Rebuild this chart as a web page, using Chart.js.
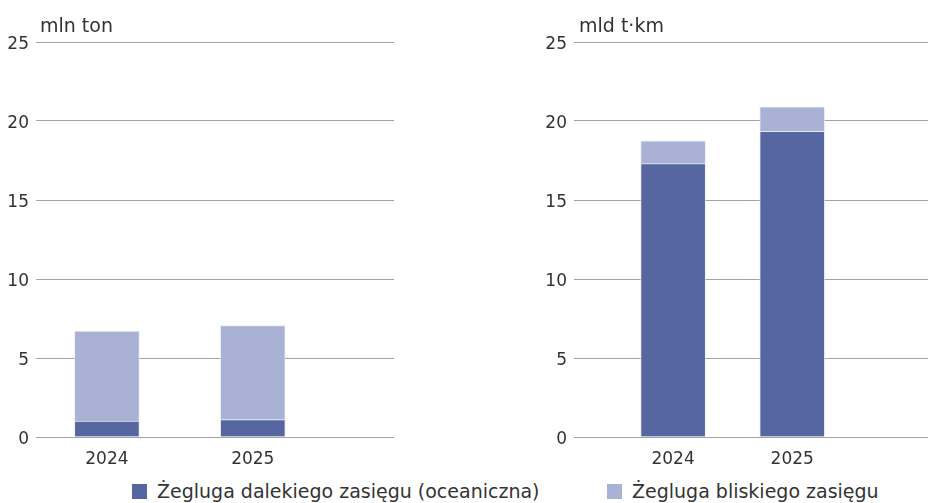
<!DOCTYPE html>
<html>
<head>
<meta charset="utf-8">
<script src="https://cdn.jsdelivr.net/npm/chart.js@4.4.0/dist/chart.umd.min.js"></script>
<style>
  body { margin: 0; background: #fff; }
  #wrap { position: relative; width: 928px; height: 503px; font-family: "DejaVu Sans", sans-serif; color: #333; }
  #wrap canvas { position: absolute; top: 0; }
  .unit { position: absolute; top: 16px; font-size: 19px; line-height: 18px; white-space: nowrap; }
  .leg { position: absolute; top: 482px; display: flex; align-items: center; font-size: 19px; line-height: 18px; white-space: nowrap; }
  .leg i { display: inline-block; width: 15px; height: 15px; margin-right: 10px; }
</style>
</head>
<body>
<div id="wrap">
  <canvas id="tonChart" width="394" height="475" style="left:0"></canvas>
  <canvas id="tkmChart" width="398" height="475" style="left:530px"></canvas>
  <div class="unit" style="left:40px">mln ton</div>
  <div class="unit" style="left:579px">mld t·km</div>
  <div class="leg" style="left:132px"><i style="background:#5566a1"></i>Żegluga dalekiego zasięgu (oceaniczna)</div>
  <div class="leg" style="left:607px"><i style="background:#a9b2d4"></i>Żegluga bliskiego zasięgu</div>
</div>
<script>
const years = [2024, 2025];
const seriesNames = ["Żegluga dalekiego zasięgu (oceaniczna)", "Żegluga bliskiego zasięgu"];

// mln ton
const tonOcean = [1.0, 1.1];
const tonShort = [5.7, 5.95];

// mld t·km
const tkmOcean = [17.3, 19.35];
const tkmShort = [1.45, 1.55];

const yTicks = [0, 5, 10, 15, 20, 25];

const darkBlue = "#5566a1";
const lightBlue = "#a9b2d4";
const textColor = "#333333";
const fontFamily = "'DejaVu Sans', sans-serif";

function points(values) {
  return years.map((yr, i) => ({ x: yr, y: values[i] }));
}

function makeChart(id, ocean, short, xMin, xMax, yAxisWidth) {
  const ctx = document.getElementById(id).getContext("2d");
  return new Chart(ctx, {
    type: "bar",
    data: {
      datasets: [
        { label: seriesNames[0], data: points(ocean), backgroundColor: darkBlue,
          borderColor: "rgba(225,229,245,0.7)", borderWidth: 1, barThickness: 65 },
        { label: seriesNames[1], data: points(short), backgroundColor: lightBlue,
          borderColor: "rgba(225,229,245,0.7)", borderWidth: 1, barThickness: 65 }
      ]
    },
    options: {
      responsive: false,
      animation: false,
      layout: { padding: { top: 42, left: 0, right: 0, bottom: 0 } },
      plugins: {
        legend: { display: false },
        tooltip: { enabled: false }
      },
      scales: {
        x: {
          type: "linear",
          stacked: true,
          offset: false,
          min: xMin,
          max: xMax,
          grid: { display: false, drawTicks: false },
          border: { display: false },
          afterBuildTicks: scale => { scale.ticks = years.map(v => ({ value: v })); },
          afterFit: scale => { scale.height = 38; },
          ticks: {
            padding: 12,
            color: textColor,
            font: { family: fontFamily, size: 17 },
            callback: v => String(v)
          }
        },
        y: {
          stacked: true,
          min: 0,
          max: 25,
          grid: { color: "#a3a3a3", lineWidth: 1, drawTicks: false },
          border: { display: false },
          afterBuildTicks: scale => { scale.ticks = yTicks.map(v => ({ value: v })); },
          afterFit: scale => { scale.width = yAxisWidth; },
          ticks: {
            padding: 7,
            labelOffset: 3,
            color: textColor,
            font: { family: fontFamily, size: 17 }
          }
        }
      }
    }
  });
}

document.addEventListener("DOMContentLoaded", () => {
  makeChart("tonChart", tonOcean, tonShort, 2023.514, 2025.968, 36);
  makeChart("tkmChart", tkmOcean, tkmShort, 2023.168, 2026.14, 44);
});
</script>
</body>
</html>
